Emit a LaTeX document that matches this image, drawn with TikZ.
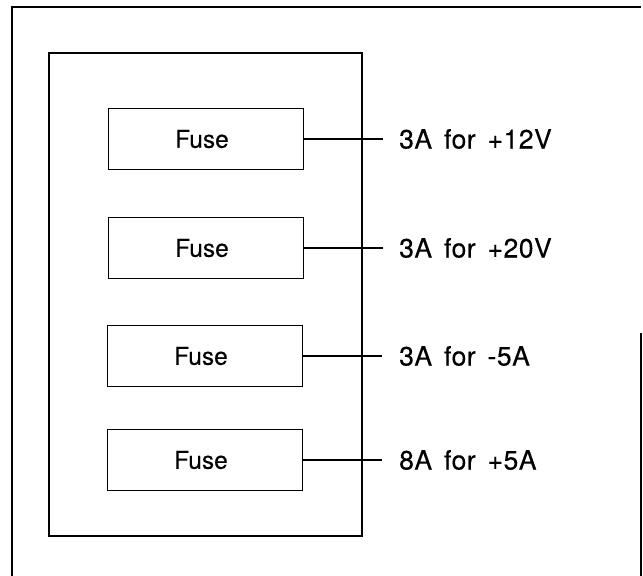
\documentclass[tikz,border=0pt]{standalone}
\usepackage{fontspec}
\setmainfont{TeX Gyre Heros}
\newfontfamily\fusefont[FakeBold=0.25]{TeX Gyre Heros}
\newfontfamily\lblfont[LetterSpace=2,WordSpace=1.5,FakeBold=0.25]{TeX Gyre Heros}
\begin{document}
\begin{tikzpicture}[x=1pt,y=-1pt,
  frame/.style={line width=1.5pt,black},
  fusebox/.style={draw,line width=1.2pt,minimum width=195pt,minimum height=61pt,inner sep=0pt,font=\fusefont\fontsize{24.5}{28}\selectfont},
  conn/.style={line width=1.1pt},
  lbl/.style={anchor=west,inner sep=0pt,font=\lblfont\fontsize{26.5}{30}\selectfont}]
\useasboundingbox (0,0) rectangle (643,576);
% outer frame (cropped at bottom)
\draw[frame] (12,576) -- (12,7) -- (641,7);
\draw[frame] (641,333) -- (641,576);
% inner frame
\draw[frame] (49,53) rectangle (362,536);
% fuses
\node[fusebox] (f1) at (206,139) {\hspace*{-8pt}Fuse};
\node[fusebox] (f2) at (206,248) {\hspace*{-8pt}Fuse};
\node[fusebox] (f3) at (205,356) {\hspace*{-8pt}Fuse};
\node[fusebox] (f4) at (205,460) {\hspace*{-8pt}Fuse};
\coordinate (e1) at (383,139);
\coordinate (e2) at (383,248);
\coordinate (e3) at (382,356);
\coordinate (e4) at (382,460);
\draw[conn] (f1.east) -- (e1);
\draw[conn] (f2.east) -- (e2);
\draw[conn] (f3.east) -- (e3);
\draw[conn] (f4.east) -- (e4);
\node[lbl] (l1) at (399,139) {3A for +12V};
\node[lbl] (l2) at (399,248) {3A for +20V};
\node[lbl] (l3) at (399,356) {3A for -5A};
\node[lbl] (l4) at (399,460) {8A for +5A};
\end{tikzpicture}
\end{document}
